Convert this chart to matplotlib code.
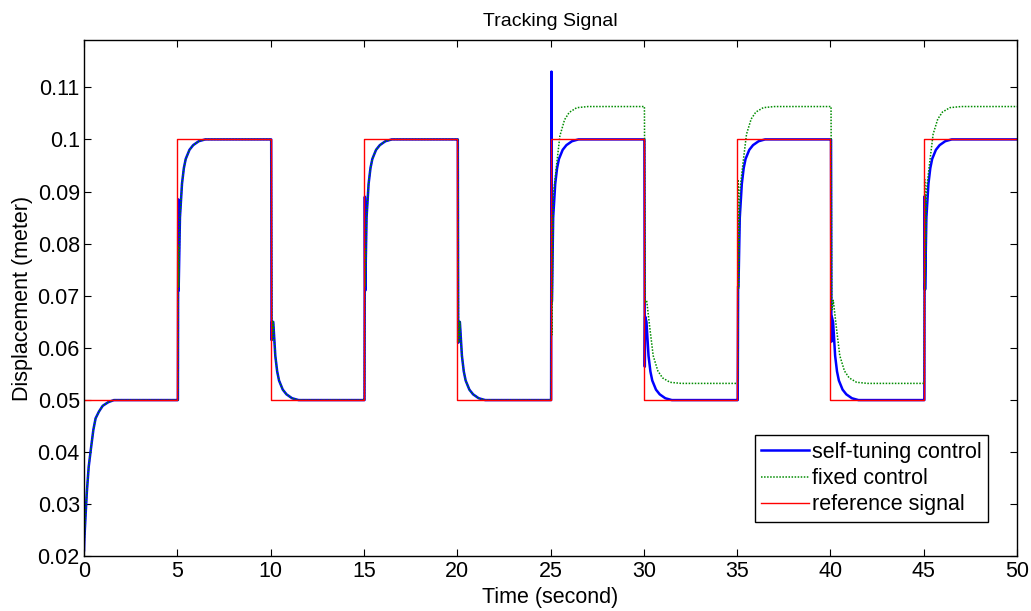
import matplotlib
matplotlib.use("Agg")
import matplotlib.pyplot as plt

plt.rcParams['font.family'] = ['Liberation Sans', 'DejaVu Sans']

# square reference signal (s, m)
ref_t = [0, 5, 10, 15, 20, 25, 30, 35, 40, 45, 50]
ref_y = [0.05, 0.1, 0.05, 0.1, 0.05, 0.1, 0.05, 0.1, 0.05, 0.1, 0.1]

# start-up from the initial position, same for both controllers
start_t = [0, 0.02, 0.08, 0.15, 0.25, 0.36, 0.5, 0.62, 0.8, 1.0, 1.3, 1.6]
start_y = [0.0212, 0.0235, 0.0277, 0.0323, 0.0372, 0.0404, 0.0443, 0.0465,
           0.0478, 0.0489, 0.0496, 0.05]

switch_t = [5, 10, 15, 20, 25, 30, 35, 40, 45]

# self-tuning control: level reached, spike tip and value right after the spike
st_level = [0.1, 0.05, 0.1, 0.05, 0.1, 0.05, 0.1, 0.05, 0.1]
st_spike = [0.0885, 0.0615, 0.089, 0.061, 0.113, 0.0564, 0.0718, 0.0612, 0.0891]
st_after = [0.071, 0.065, 0.071, 0.065, 0.0689, 0.066, 0.0718, 0.066, 0.0712]

# fixed control
fx_level = [0.1, 0.05, 0.1, 0.05, 0.1063, 0.0532, 0.1063, 0.0532, 0.1063]
fx_spike = [0.0794, 0.0785, 0.079, 0.0785, 0.0856, 0.0885, 0.0923, 0.0881, 0.0923]
fx_after = [0.0717, 0.0615, 0.0717, 0.061, 0.0625, 0.0687, 0.0712, 0.0673, 0.0712]

# settling shape after a switch: time since switch vs fraction of the step done
st_off = [0.14, 0.25, 0.35, 0.45, 0.65, 0.85, 1.15, 1.5]
st_frac = [0.70, 0.83, 0.89, 0.925, 0.96, 0.978, 0.993, 1.0]
fx_off = [0.15, 0.32, 0.5, 0.75, 1.0, 1.4, 2.0]
fx_frac = [0.70, 0.80, 0.90, 0.955, 0.98, 0.996, 1.0]


def build(levels, spike, after, shapes):
    t = list(start_t)
    y = list(start_y)
    prev = start_y[-1]
    for k, ts in enumerate(switch_t):
        new = levels[k]
        off, frac = shapes[k]
        t += [ts, ts + 0.03, ts + 0.05, ts + 0.07]
        y += [prev, prev, spike[k], after[k]]
        t += [ts + o for o in off]
        y += [prev + f * (new - prev) for f in frac]
        prev = new
    t.append(50)
    y.append(prev)
    return t, y


st_t, st_y = build(st_level, st_spike, st_after, [(st_off, st_frac)] * 9)
# fixed control follows the same transient until the plant changes at 25 s
fx_t, fx_y = build(fx_level, fx_spike, fx_after,
                   [(st_off, st_frac)] * 4 + [(fx_off, fx_frac)] * 5)

fig = plt.figure(figsize=(10.31, 6.11), dpi=100)
ax = fig.add_axes([0.0815, 0.0892, 0.905, 0.8448])

ax.plot(st_t, st_y, color='blue', lw=1.8, label='self-tuning control')
ax.plot(fx_t, fx_y, color=(0, 0.55, 0), lw=1.1, linestyle=(0, (1, 1)), label='fixed control')
ax.plot(ref_t, ref_y, color='red', lw=1.0, drawstyle='steps-post', label='reference signal')

ax.set_xlim(0, 50)
ax.set_ylim(0.02, 0.119)
ax.set_xticks(range(0, 51, 5))
yt = [0.02, 0.03, 0.04, 0.05, 0.06, 0.07, 0.08, 0.09, 0.1, 0.11]
ax.set_yticks(yt)
ax.set_yticklabels(['%g' % v for v in yt])
ax.tick_params(direction='in', length=5, width=0.8, top=True, right=True,
               labelsize=15.5, pad=3)
for s in ax.spines.values():
    s.set_linewidth(1.0)

ax.set_title('Tracking Signal', fontsize=14, pad=10)
ax.set_xlabel('Time (second)', fontsize=15.5, labelpad=4)
ax.set_ylabel('Displacement (meter)', fontsize=15.5, labelpad=3)

leg = ax.legend(loc='lower right', bbox_to_anchor=(0.969, 0.067), borderaxespad=0,
                fontsize=15.5, fancybox=False, edgecolor='black', framealpha=1,
                handlelength=2.2, handletextpad=0.15, labelspacing=0.25, borderpad=0.3)
leg.get_frame().set_linewidth(1.0)

fig.savefig('out.png', dpi=100)
